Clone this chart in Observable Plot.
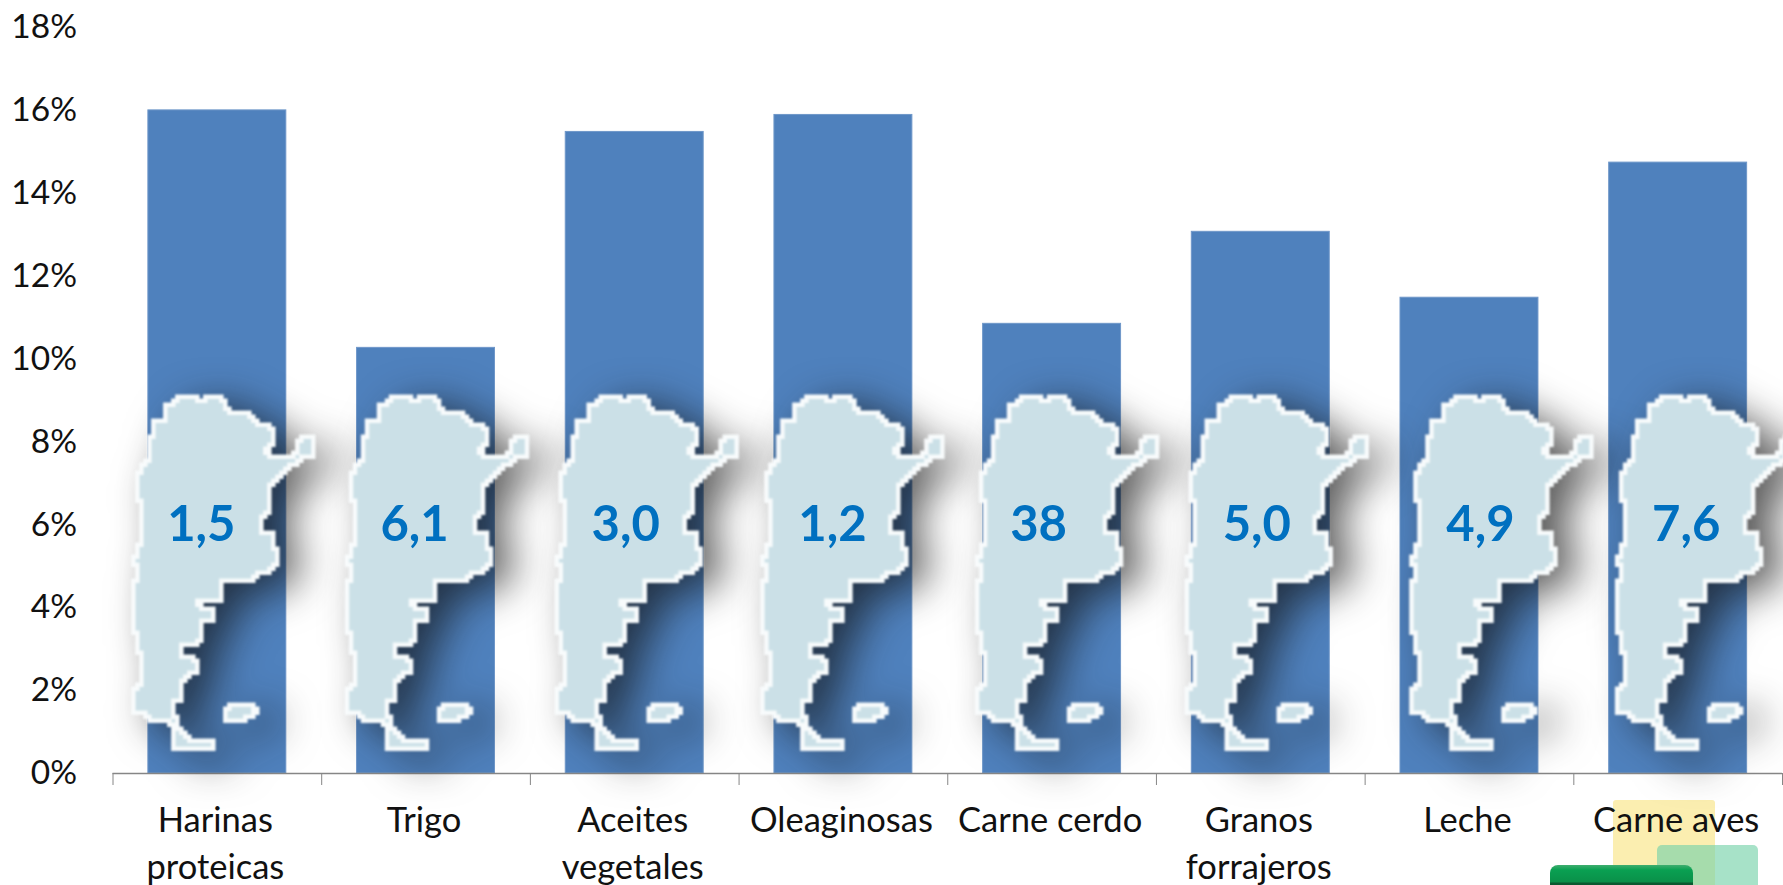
<!DOCTYPE html>
<html><head><meta charset="utf-8">
<script src="https://cdn.jsdelivr.net/npm/d3@7"></script>
<script src="https://cdn.jsdelivr.net/npm/@observablehq/plot@0.6"></script>
<style>
html,body{margin:0;padding:0;background:#fff;overflow:hidden}
#wrap{position:relative;width:1783px;height:885px;overflow:hidden}
#wrap svg{position:absolute;left:0;top:0;background:transparent!important}
.logo{position:absolute}
</style></head><body><div id="wrap">
<div class="logo" style="left:1613px;top:800px;width:102px;height:90px;background:#fbeeb0;border-radius:3px"></div>
<div class="logo" style="left:1657px;top:845px;width:101px;height:50px;background:rgba(120,210,170,.65);border-radius:5px"></div>
<div class="logo" style="left:1550px;top:865px;width:143px;height:30px;background:linear-gradient(#3fae6f 0,#0aa052 5px,#0a9049 17px,#0a5a30 18px);border-radius:8px 8px 0 0"></div>
</div>
<script>
const categories = ["Harinas\nproteicas","Trigo","Aceites\nvegetales","Oleaginosas","Carne cerdo","Granos\nforrajeros","Leche","Carne aves"];
const shares = [16.0,10.27,15.48,15.89,10.85,13.07,11.48,14.74];
const mapNumbers = ["1,5","6,1","3,0","1,2","38","5,0","4,9","7,6"];
const yTicks = [0,2,4,6,8,10,12,14,16,18];
const mapLevel = 6;

// Decorative map outline, in the units of the symbol
const mainland = [[525,75],[565,75],[590,90],[610,75],[650,75],[675,105],[685,120],[720,130],[770,160],[815,180],[815,215],[790,240],[805,258],[860,258],[885,235],[895,200],[925,195],[935,215],[935,260],[890,280],[850,310],[805,355],[800,410],[785,450],[785,480],[815,500],[825,545],[825,570],[800,605],[760,625],[665,630],[665,690],[590,695],[600,710],[630,715],[630,755],[600,765],[590,820],[540,835],[535,860],[585,880],[585,905],[545,945],[540,985],[520,995],[525,1050],[545,1080],[565,1105],[630,1120],[630,1135],[515,1135],[515,1075],[505,1055],[440,1055],[435,1020],[400,1010],[395,960],[415,930],[410,830],[400,770],[400,640],[410,620],[400,575],[410,545],[425,510],[420,430],[410,380],[420,290],[445,260],[450,180],[460,150],[495,135],[495,100]];
const island = [[670,1030],[685,1005],[750,1005],[762,1020],[760,1040],[730,1055],[700,1055],[670,1045]];
const cell = 4;
const mapSymbol = {draw(ctx,size){
  const s = Math.sqrt(size/Math.PI)/3;
  const snap = v => Math.round(v/cell)*cell;
  for (const ring of [mainland,island]) {
    const pts = ring.map(([x,y])=>[(x-600)*s,(y-462)*s]);
    let cx = snap(pts[0][0]), cy = snap(pts[0][1]);
    ctx.moveTo(cx,cy);
    for (let i=1;i<=pts.length;i++){
      const [a,b]=pts[i%pts.length];
      const tx=snap(a), ty=snap(b);
      while(cx!==tx||cy!==ty){
        const dx=tx-cx, dy=ty-cy;
        if(Math.abs(dx)>=Math.abs(dy)){cx+=Math.sign(dx)*cell;} else {cy+=Math.sign(dy)*cell;}
        ctx.lineTo(cx,cy);
      }
    }
    ctx.closePath();
  }
}};
// Hand placement of each map and of its number, relative to the bar centre
const mapShift = [-16,-11,-10,-13,-7,-6,10,7];
const numberShift = [-16,-11.5,-9,-11,-13.5,-4,11,8];

const step = (1782-112.5)/8;
const marks = [
  Plot.barY(categories.map((c,i)=>({c,v:shares[i]})),{x:"c",y:"v",fill:"#4f81bd",stroke:"#6f97c9",strokeWidth:1}),
  Plot.ruleY([0],{stroke:"#868686",strokeWidth:1.5}),
  Plot.axisY({ticks:yTicks,tickFormat:d=>d+"%",tickSize:0,tickPadding:36,fontSize:33.5,fill:"#111",label:null,fontFamily:"Lato"}),
  Plot.axisX(categories,{anchor:"bottom",tickSize:12,text:null,dx:-step/2,stroke:"#868686",label:null}),
  Plot.axisX(categories.slice(-1),{anchor:"bottom",tickSize:12,text:null,dx:step/2,stroke:"#868686",label:null}),
];
categories.forEach((c,i)=>{
  marks.push(Plot.dot([c],{x:d=>d,y:()=>mapLevel,dx:mapShift[i],symbol:mapSymbol,r:1,fill:"#cbe0e7",stroke:"#f8fbfc",strokeWidth:4.5,strokeLinejoin:"miter",imageFilter:"blur(0.8px) drop-shadow(20px 10px 20px rgba(15,15,15,.68))"}));
  marks.push(Plot.text([c],{x:d=>d,y:()=>mapLevel,dx:numberShift[i],text:()=>mapNumbers[i],fill:"#0070c0",fontSize:49,fontWeight:700,fontFamily:"Lato"}));
});
marks.push(Plot.axisX({anchor:"bottom",tickSize:0,tickPadding:25,fontSize:34.5,lineHeight:1.37,fill:"#111",label:null,fontFamily:"Lato",textOverflow:null,lineAnchor:"top",dx:-2}));
const chart = Plot.plot({
  width:1783,height:885,
  marginLeft:112.5,marginRight:1,marginTop:27,marginBottom:112,
  style:{background:"transparent",fontFamily:"Lato"},
  x:{domain:categories,paddingInner:0.339,paddingOuter:0.1695,round:false,label:null,axis:null},
  y:{domain:[0,18],label:null,axis:null},
  marks
});
document.getElementById("wrap").appendChild(chart);
</script></body></html>
